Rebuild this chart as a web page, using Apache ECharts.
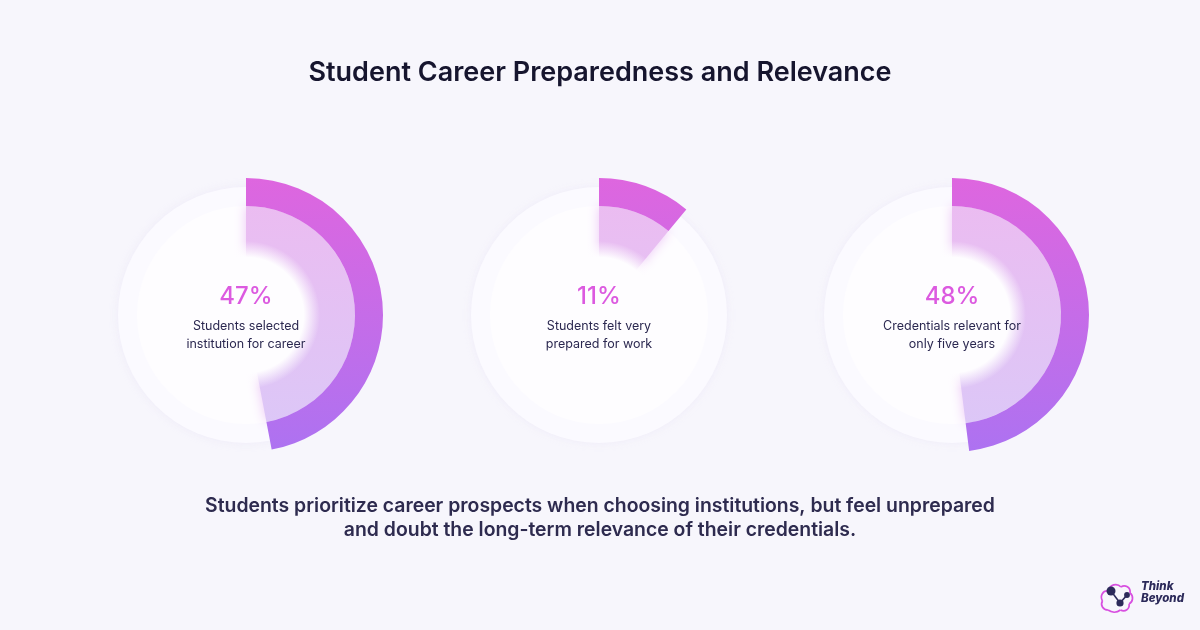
<!DOCTYPE html>
<html>
<head>
<meta charset="utf-8">
<script src="https://cdn.jsdelivr.net/npm/echarts@6/dist/echarts.min.js"></script>
<style>
html,body{margin:0;padding:0;background:#f7f6fc;}
#main{width:1200px;height:630px;}
</style>
</head>
<body>
<div id="main"></div>
<script>
const titleText = 'Student Career Preparedness and Relevance';
const subtitleLines = ['Students prioritize career prospects when choosing institutions, but feel unprepared', 'and doubt the long-term relevance of their credentials.'];
const categories = ['Students selected\ninstitution for career', 'Students felt very\nprepared for work', 'Credentials relevant for\nonly five years'];
const values = [47, 11, 48];

const centersX = [246, 599, 952];
const centerY = 315;
const font = 'Inter, "Noto Sans", sans-serif';

const chart = echarts.init(document.getElementById('main'), null, {renderer: 'canvas'});
const series = [];
const T = 'rgba(0,0,0,0)';

values.forEach((v, i) => {
  const cx = centersX[i];
  const base = {type: 'pie', center: [cx, centerY], startAngle: 90, clockwise: true, silent: true,
    animation: false, label: {show: false}, labelLine: {show: false}, emphasis: {disabled: true}};
  series.push(Object.assign({}, base, {radius: [0, 128],
    data: [{value: 1, itemStyle: {color: '#fbfaff', shadowBlur: 8, shadowColor: 'rgba(236,232,248,0.8)'}}]}));
  series.push(Object.assign({}, base, {radius: [0, 109],
    data: [{value: 1, itemStyle: {color: '#fefdff'}}]}));
  series.push(Object.assign({}, base, {radius: [54, 109],
    data: [
      {value: v, itemStyle: {color: {type: 'linear', x: 0, y: centerY - 110, x2: 0, y2: centerY + 110, global: true,
        colorStops: [{offset: 0, color: '#ebbcf1'}, {offset: 1, color: '#dcc7f7'}]},
        shadowBlur: 12, shadowColor: 'rgba(230,180,242,0.75)'}},
      {value: 100 - v, itemStyle: {color: T}}
    ]}));
  series.push(Object.assign({}, base, {radius: [0, 74],
    data: [{value: 1, itemStyle: {color: {type: 'radial', x: cx, y: centerY, r: 74, global: true,
      colorStops: [{offset: 0, color: '#fefdff'}, {offset: 0.78, color: '#fefdff'}, {offset: 1, color: 'rgba(254,253,255,0)'}]}}}]}));
  series.push(Object.assign({}, base, {radius: [109, 137],
    label: {show: true, position: 'center', formatter: () => '{p|' + v + '%}\n' + categories[i].split('\n').map(s => '{t|' + s + '}').join('\n'),
      rich: {
        p: {fontFamily: font, fontSize: 24, fontWeight: 500, color: '#dc5ae0', lineHeight: 40},
        t: {fontFamily: font, fontSize: 12.5, fontWeight: 400, color: '#2b2850', lineHeight: 18}
      }},
    data: [
      {value: v, itemStyle: {color: {type: 'linear', x: 0, y: centerY - 137, x2: 0, y2: centerY + 137, global: true,
        colorStops: [{offset: 0, color: '#de66df'}, {offset: 1, color: '#ad72f1'}]}}},
      {value: 100 - v, itemStyle: {color: T}, label: {show: false}}
    ]}));
});

// cloud outline as bezier segments (local coords)
const cloudSegs = [
  [8,29, 3,29, 0,24, 2.5,20], [2.5,20, -0.5,15, 3,9, 8.5,10], [8.5,10, 9.5,3.5, 17,1.5, 21,6],
  [21,6, 25,3, 31,6.5, 30,12], [30,12, 34,15, 33,21, 29,23], [29,23, 30,28, 25,31.5, 20.5,29],
  [20.5,29, 16.5,32, 11.5,31.5, 8,29]
];
const logoChildren = cloudSegs.map(s => ({type: 'bezierCurve',
  shape: {x1: s[0], y1: s[1], cpx1: s[2], cpy1: s[3], cpx2: s[4], cpy2: s[5], x2: s[6], y2: s[7]},
  style: {fill: null, stroke: '#d84fe0', lineWidth: 1.7}}));
logoChildren.push(
  {type: 'line', shape: {x1: 11, y1: 10, x2: 20, y2: 22}, style: {stroke: '#2c2a5a', lineWidth: 1.6}},
  {type: 'line', shape: {x1: 20, y1: 22, x2: 27, y2: 14}, style: {stroke: '#2c2a5a', lineWidth: 1.6}},
  {type: 'circle', shape: {cx: 11, cy: 10, r: 4.5}, style: {fill: '#2c2a5a'}},
  {type: 'circle', shape: {cx: 20, cy: 22, r: 3.6}, style: {fill: '#2c2a5a'}},
  {type: 'circle', shape: {cx: 27, cy: 14, r: 2.9}, style: {fill: '#2c2a5a'}}
);

chart.setOption({
  backgroundColor: '#f7f6fc',
  title: {text: titleText, left: 'center', top: 54,
    textStyle: {fontFamily: font, fontSize: 27, fontWeight: 600, color: '#16152e'}},
  graphic: [
    {type: 'text', x: 600, y: 494, style: {text: subtitleLines.join('\n'), fontFamily: font, fontSize: 19.4, fontWeight: 600,
      fill: '#2e2b4f', lineHeight: 24, textAlign: 'center'}},
    {type: 'group', x: 1100, y: 581, children: logoChildren},
    {type: 'text', x: 1141, y: 581, style: {text: 'Think\nBeyond', fontFamily: font, fontSize: 11.5, fontWeight: 800, fontStyle: 'italic',
      fill: '#2c2a5a', lineHeight: 12}}
  ],
  series: series
});
</script>
</body>
</html>
